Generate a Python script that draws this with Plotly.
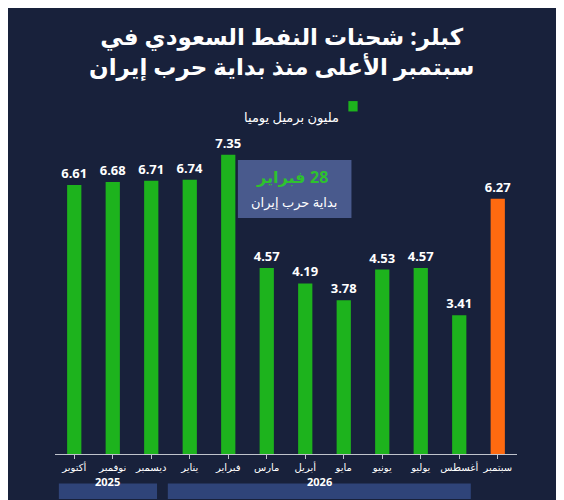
import plotly.graph_objects as go

# monthly Saudi crude shipments (million barrels per day)
months = ["أكتوبر", "نوفمبر", "ديسمبر", "يناير", "فبراير", "مارس", "أبريل",
          "مايو", "يونيو", "يوليو", "أغسطس", "سبتمبر"]
values = [6.61, 6.68, 6.71, 6.74, 7.35, 4.57, 4.19, 3.78, 4.53, 4.57, 3.41, 6.27]
colors = ["#1db31d"] * 11 + ["#ff6a10"]
years = ["2025", "2026"]

FONT = "Noto Sans, DejaVu Sans, sans-serif"

fig = go.Figure(go.Bar(
    x=list(range(len(months))), y=values, marker_color=colors, width=0.37,
    marker_line_width=0,
    text=[f"<b>{v:.2f}</b>" for v in values], textposition="outside",
    constraintext="none",
    textfont=dict(color="white", size=13, family=FONT), cliponaxis=False,
))

fig.update_layout(
    width=564, height=500,
    paper_bgcolor="#18213b", plot_bgcolor="rgba(0,0,0,0)",
    margin=dict(l=47, r=55, t=100, b=54),
    showlegend=False,
    font=dict(family=FONT, color="white"),
    xaxis=dict(tickvals=list(range(len(months))), ticktext=months,
               range=[-0.5, 11.5], showgrid=False, showline=True, tickangle=0,
               linecolor="#bfc3cc", ticks="outside", tickcolor="#bfc3cc",
               ticklen=4, tickfont=dict(size=10, color="white")),
    yaxis=dict(range=[0, 8.5], visible=False),
)

# title
fig.add_annotation(text="<b>كبلر: شحنات النفط السعودي في<br>سبتمبر الأعلى منذ بداية حرب إيران</b>",
                   xref="paper", yref="paper", x=0.49, y=1.165, showarrow=False,
                   font=dict(size=23, color="white"), align="center", yanchor="middle")

# legend
fig.add_annotation(text="مليون برميل يوميا", xref="paper", yref="paper",
                   x=0.62, y=1.005, showarrow=False, xanchor="right",
                   font=dict(size=13, color="white"))
fig.add_shape(type="rect", xref="paper", yref="paper", x0=0.635, x1=0.655,
              y0=0.99, y1=1.02, fillcolor="#1db31d", line_width=0)

# event callout
fig.add_shape(type="rect", x0=4.25, x1=7.2, y0=5.8, y1=7.22,
              fillcolor="rgba(90,110,170,0.75)", line_width=0, layer="above")
fig.add_annotation(x=6.05, y=6.8, text="<b>فبراير</b>", showarrow=False, xanchor="right",
                   font=dict(size=16, color="#2ec22e"))
fig.add_annotation(x=6.08, y=6.8, text="<b>28</b>", showarrow=False, xanchor="left",
                   font=dict(size=16, color="#2ec22e"))
fig.add_annotation(x=5.72, y=6.2, text="بداية حرب إيران", showarrow=False,
                   font=dict(size=13, color="white"))

# year bands
for label, x0, x1 in [(years[0], -0.4, 2.15), (years[1], 2.43, 10.3)]:
    fig.add_shape(type="rect", xref="x", yref="paper", x0=x0, x1=x1,
                  y0=-0.13, y1=-0.085, fillcolor="#2f4479", line_width=0)
    fig.add_annotation(x=(x0 + x1) / 2, y=-0.1075, yref="paper", text=f"<b>{label}</b>",
                       showarrow=False, font=dict(size=11, color="white"))

fig.write_html("out.html")
